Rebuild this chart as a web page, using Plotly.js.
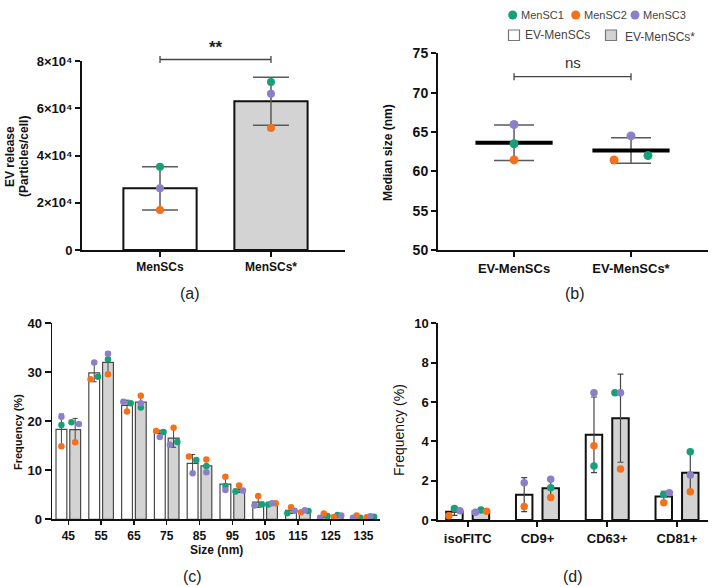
<!DOCTYPE html>
<html><head><meta charset="utf-8">
<script src="https://cdn.plot.ly/plotly-3.0.1.min.js"></script>
<style>html,body{margin:0;padding:0;background:#fff}</style>
</head><body><div id="chart" style="width:713px;height:587px"></div>
<script>
// ================= DATA =================
const donors = ['MenSC1', 'MenSC2', 'MenSC3'];
const groups = ['EV-MenSCs', 'EV-MenSCs*'];

// (a) EV release (particles/cell)
const releaseCats = ['MenSCs', 'MenSCs*'];
const releaseMenSC1 = [35260, 71100];
const releaseMenSC2 = [16930, 51640];
const releaseMenSC3 = [26100, 66160];
const releaseTickVals = [0, 20000, 40000, 60000, 80000];
const releaseTickText = ['0', '2×10⁴', '4×10⁴', '6×10⁴', '8×10⁴'];

// (b) Median size (nm)
const sizeCats = ['EV-MenSCs', 'EV-MenSCs*'];
const medianMenSC1 = [63.5, 62.0];
const medianMenSC2 = [61.45, 61.45];
const medianMenSC3 = [65.95, 64.5];

// (c) Size distribution, frequency (%)
const sizeBins = ['45', '55', '65', '75', '85', '95', '105', '115', '125', '135'];
const distEV_MenSC1 = [19.25, 29.1, 23.7, 17.8, 12.1, 6.8, 3.0, 1.22, 0.68, 0.34];
const distEV_MenSC2 = [14.9, 28.6, 22.0, 18.0, 12.8, 8.7, 4.76, 2.45, 1.16, 0.75];
const distEV_MenSC3 = [20.95, 32.0, 24.0, 16.8, 9.4, 6.0, 2.8, 1.77, 0.34, 0.34];
const distEVs_MenSC1 = [19.8, 32.65, 22.8, 15.8, 10.9, 5.65, 3.0, 1.7, 0.88, 0.5];
const distEVs_MenSC2 = [15.7, 29.6, 25.2, 18.7, 12.2, 6.9, 3.27, 1.43, 0.48, 0.4];
const distEVs_MenSC3 = [19.46, 33.8, 23.7, 15.2, 9.6, 5.9, 3.3, 1.84, 0.75, 0.6];

// (d) Tetraspanin markers, frequency (%)
const markerCats = ['isoFITC', 'CD9+', 'CD63+', 'CD81+'];
const markEV_MenSC1 = [0.58, null, 2.75, 1.3];
const markEV_MenSC2 = [0.22, 0.68, 3.78, 0.88];
const markEV_MenSC3 = [0.47, 1.9, 6.47, 1.39];
const markEVs_MenSC1 = [0.51, 1.64, 6.47, 3.47];
const markEVs_MenSC2 = [0.44, 1.14, 2.59, 1.44];
const markEVs_MenSC3 = [0.39, 2.07, 6.47, 2.29];

// ================= STYLE =================
const COL = {MenSC1: '#15a078', MenSC2: '#f5701a', MenSC3: '#8a7fc8'};
const GRAY_BAR = '#d3d3d3';
// scatter spread codes (-1 left, 0 centre, +1 right), purely presentational
const SPREAD_B = {MenSC1: [0, 1], MenSC2: [0, -1], MenSC3: [0, 0]};
const SPREAD_C_W = {MenSC1: [0,1,1,1,1,0,1,-1,1,1], MenSC2: [0,-1,0,-1,-1,0,0,0,0,0], MenSC3: [0,0,-1,0,0,0,-1,1,-1,-1]};
const SPREAD_C_G = {MenSC1: [-1,0,0,1,0,-1,-1,1,0,1], MenSC2: [0,0,0,0,0,0,1,-1,-1,-1], MenSC3: [1,0,0,-1,0,1,0,0,1,0]};
const SPREAD_D_W = {MenSC1: [0,0,0,0], MenSC2: [-1,0,0,0], MenSC3: [1,0,0,1]};
const SPREAD_D_G = {MenSC1: [0,0,-1,0], MenSC2: [1,0,0,0], MenSC3: [-1,0,0,0]};

const W = 713, H = 587;
const PX = p => p / W, PY = p => 1 - p / H;
const FONT = 'Liberation Sans, Arial, sans-serif';

function stats(arrs) {
  const n = arrs[0].length, mean = [], sd = [];
  for (let i = 0; i < n; i++) {
    const v = arrs.map(a => a[i]).filter(x => x !== null && x !== undefined);
    const m = v.reduce((s, x) => s + x, 0) / v.length;
    const s2 = v.reduce((s, x) => s + (x - m) * (x - m), 0) / (v.length - 1);
    mean.push(m); sd.push(Math.sqrt(s2));
  }
  return {mean, sd};
}
const idx = arr => arr.map((_, i) => i);

const traces = [];

// ---------- (a) ----------
const relStats = stats([releaseMenSC1, releaseMenSC2, releaseMenSC3]);
traces.push({
  type: 'bar', x: idx(releaseCats), y: relStats.mean, width: 0.66,
  xaxis: 'x', yaxis: 'y', showlegend: false, hoverinfo: 'skip',
  marker: {color: ['#ffffff', GRAY_BAR], line: {color: '#111', width: 2}},
  error_y: {type: 'data', array: relStats.sd, visible: true, color: '#5a5a5a', thickness: 1.5, width: 18}
});
[[releaseMenSC1, 'MenSC1'], [releaseMenSC2, 'MenSC2'], [releaseMenSC3, 'MenSC3']].forEach(([v, d]) => {
  traces.push({type: 'scatter', mode: 'markers', x: idx(releaseCats), y: v, xaxis: 'x', yaxis: 'y',
    showlegend: false, cliponaxis: false, hoverinfo: 'skip',
    marker: {color: COL[d], size: 8, line: {width: 0}}});
});

// ---------- (b) ----------
const medStats = stats([medianMenSC1, medianMenSC2, medianMenSC3]);
traces.push({
  type: 'scatter', mode: 'markers', x: idx(sizeCats), y: medStats.mean, xaxis: 'x2', yaxis: 'y2',
  showlegend: false, cliponaxis: false, hoverinfo: 'skip',
  marker: {color: 'rgba(0,0,0,0)', size: 1},
  error_y: {type: 'data', array: medStats.sd, visible: true, color: '#5a5a5a', thickness: 1.5, width: 20},
  error_x: {type: 'constant', value: 0.33, visible: true, color: '#000', thickness: 4, width: 0}
});
[[medianMenSC1, 'MenSC1'], [medianMenSC2, 'MenSC2'], [medianMenSC3, 'MenSC3']].forEach(([v, d]) => {
  traces.push({type: 'scatter', mode: 'markers', x: idx(sizeCats).map(i => i + 0.145 * SPREAD_B[d][i]), y: v,
    xaxis: 'x2', yaxis: 'y2', showlegend: false, cliponaxis: false, hoverinfo: 'skip',
    marker: {color: COL[d], size: 9, line: {width: 0}}});
});

// ---------- (c) ----------
const cW = stats([distEV_MenSC1, distEV_MenSC2, distEV_MenSC3]);
const cG = stats([distEVs_MenSC1, distEVs_MenSC2, distEVs_MenSC3]);
const C_OFF = 0.21, C_W = 0.33, C_STEP = 0.113;
traces.push({type: 'bar', x: idx(sizeBins), y: cW.mean, width: C_W, offset: -C_OFF - C_W / 2,
  xaxis: 'x3', yaxis: 'y3', showlegend: false, hoverinfo: 'skip',
  marker: {color: '#ffffff', line: {color: '#4a4a4a', width: 1.2}},
  error_y: {type: 'data', array: cW.sd, visible: true, color: '#444', thickness: 1, width: 2.5}});
traces.push({type: 'bar', x: idx(sizeBins), y: cG.mean, width: C_W, offset: C_OFF - C_W / 2,
  xaxis: 'x3', yaxis: 'y3', showlegend: false, hoverinfo: 'skip',
  marker: {color: GRAY_BAR, line: {color: '#4a4a4a', width: 1.2}},
  error_y: {type: 'data', array: cG.sd, visible: true, color: '#444', thickness: 1, width: 2.5}});
[[distEV_MenSC1, 'MenSC1', -1, SPREAD_C_W], [distEV_MenSC2, 'MenSC2', -1, SPREAD_C_W], [distEV_MenSC3, 'MenSC3', -1, SPREAD_C_W],
 [distEVs_MenSC1, 'MenSC1', 1, SPREAD_C_G], [distEVs_MenSC2, 'MenSC2', 1, SPREAD_C_G], [distEVs_MenSC3, 'MenSC3', 1, SPREAD_C_G]]
.forEach(([v, d, side, sp]) => {
  traces.push({type: 'scatter', mode: 'markers', x: idx(sizeBins).map(i => i + side * C_OFF + C_STEP * sp[d][i]), y: v,
    xaxis: 'x3', yaxis: 'y3', showlegend: false, cliponaxis: false, hoverinfo: 'skip',
    marker: {color: COL[d], size: 6.5, line: {width: 0}}});
});

// ---------- (d) ----------
const dW = stats([markEV_MenSC1, markEV_MenSC2, markEV_MenSC3]);
const dG = stats([markEVs_MenSC1, markEVs_MenSC2, markEVs_MenSC3]);
const D_OFF = 0.19, D_W = 0.236, D_STEP = 0.08;
traces.push({type: 'bar', x: idx(markerCats), y: dW.mean, width: D_W, offset: -D_OFF - D_W / 2,
  xaxis: 'x4', yaxis: 'y4', showlegend: false, hoverinfo: 'skip',
  marker: {color: '#ffffff', line: {color: '#111', width: 2}},
  error_y: {type: 'data', array: dW.sd, visible: true, color: '#444', thickness: 1.2, width: 3}});
traces.push({type: 'bar', x: idx(markerCats), y: dG.mean, width: D_W, offset: D_OFF - D_W / 2,
  xaxis: 'x4', yaxis: 'y4', showlegend: false, hoverinfo: 'skip',
  marker: {color: GRAY_BAR, line: {color: '#111', width: 2}},
  error_y: {type: 'data', array: dG.sd, visible: true, color: '#444', thickness: 1.2, width: 3}});
[[markEV_MenSC1, 'MenSC1', -1, SPREAD_D_W], [markEV_MenSC2, 'MenSC2', -1, SPREAD_D_W], [markEV_MenSC3, 'MenSC3', -1, SPREAD_D_W],
 [markEVs_MenSC1, 'MenSC1', 1, SPREAD_D_G], [markEVs_MenSC2, 'MenSC2', 1, SPREAD_D_G], [markEVs_MenSC3, 'MenSC3', 1, SPREAD_D_G]]
.forEach(([v, d, side, sp]) => {
  traces.push({type: 'scatter', mode: 'markers', x: idx(markerCats).map(i => i + side * D_OFF + D_STEP * sp[d][i]), y: v,
    xaxis: 'x4', yaxis: 'y4', showlegend: false, cliponaxis: false, hoverinfo: 'skip',
    marker: {color: COL[d], size: 7.5, line: {width: 0}}});
});

// ================= LAYOUT =================
function axisBase(extra) {
  return Object.assign({
    showgrid: false, zeroline: false, showline: true, linecolor: '#111', linewidth: 2,
    ticks: 'outside', ticklen: 5, tickwidth: 2, tickcolor: '#111', fixedrange: true,
    tickfont: {family: FONT, size: 12, color: '#111', weight: 'bold'}
  }, extra);
}
const layout = {
  width: W, height: H, margin: {l: 0, r: 0, t: 0, b: 0},
  paper_bgcolor: '#fff', plot_bgcolor: 'rgba(0,0,0,0)',
  barmode: 'overlay', showlegend: false, font: {family: FONT},
  xaxis: axisBase({domain: [PX(82), PX(345)], anchor: 'y', range: [-0.703, 1.667],
    tickvals: idx(releaseCats), ticktext: releaseCats}),
  yaxis: axisBase({domain: [PY(250), PY(61)], anchor: 'x', range: [0, 80000],
    tickvals: releaseTickVals, ticktext: releaseTickText,
    tickfont: {family: FONT, size: 13, color: '#111', weight: 'bold'}}),
  xaxis2: axisBase({domain: [PX(438), PX(708)], anchor: 'y2', range: [-0.65, 1.658],
    tickvals: idx(sizeCats), ticktext: sizeCats, tickfont: {family: FONT, size: 13, color: '#111', weight: 'bold'}}),
  yaxis2: axisBase({domain: [PY(250), PY(53.3)], anchor: 'x2', range: [50, 75], dtick: 5, tick0: 50,
    tickfont: {family: FONT, size: 14, color: '#111', weight: 'bold'}}),
  xaxis3: axisBase({domain: [PX(52.3), PX(380)], anchor: 'y3', range: [-0.488, 9.503],
    tickvals: idx(sizeBins), ticktext: sizeBins, linewidth: 1.8, tickwidth: 1.5, ticklen: 4,
    tickfont: {family: FONT, size: 12, color: '#111', weight: 'bold'}}),
  yaxis3: axisBase({domain: [PY(519.3), PY(323.3)], anchor: 'x3', range: [0, 40], dtick: 10, tick0: 0,
    linewidth: 1.8, tickwidth: 1.8, ticklen: 6, tickfont: {family: FONT, size: 13, color: '#111', weight: 'bold'}}),
  xaxis4: axisBase({domain: [PX(438.3), PX(708)], anchor: 'y4', range: [-0.421, 3.444],
    tickvals: idx(markerCats), ticktext: markerCats, tickfont: {family: FONT, size: 13, color: '#111', weight: 'bold'}}),
  yaxis4: axisBase({domain: [PY(520), PY(323.3)], anchor: 'x4', range: [0, 10], dtick: 2, tick0: 0,
    tickfont: {family: FONT, size: 13, color: '#111', weight: 'bold'}}),
  shapes: [], annotations: []
};

function ann(text, px, py, o) {
  layout.annotations.push(Object.assign({text, x: PX(px), y: PY(py), xref: 'paper', yref: 'paper',
    showarrow: false, xanchor: 'center', yanchor: 'middle',
    font: {family: FONT, size: 12, color: '#111'}}, o || {}));
}
const BOLD12 = {family: FONT, size: 12, color: '#111', weight: 'bold'};
// axis titles
ann('EV release', 10, 157, {textangle: -90, font: BOLD12});
ann('(Particles/cell)', 24, 157, {textangle: -90, font: BOLD12});
ann('Median size (nm)', 388, 153, {textangle: -90, font: BOLD12});
ann('Frequency (%)', 18, 432, {textangle: -90, font: {family: FONT, size: 11, color: '#111', weight: 'bold'}});
ann('Frequency (%)', 399, 430, {textangle: -90, font: {family: FONT, size: 14, color: '#111'}});
ann('Size (nm)', 216, 550, {font: BOLD12});
// panel labels
ann('(a)', 190, 293, {font: {family: FONT, size: 16, color: '#222'}});
ann('(b)', 575, 293, {font: {family: FONT, size: 16, color: '#222'}});
ann('(c)', 192, 576, {font: {family: FONT, size: 16, color: '#222'}});
ann('(d)', 573, 576, {font: {family: FONT, size: 16, color: '#222'}});

// significance brackets
function bracket(xr, lineY, label, labelY, labelFont) {
  const c = {color: '#444', width: 1.3};
  layout.shapes.push({type: 'line', xref: xr, yref: 'paper', x0: 0, x1: 1, y0: PY(lineY), y1: PY(lineY), line: c});
  [0, 1].forEach(v => layout.shapes.push({type: 'line', xref: xr, yref: 'paper', x0: v, x1: v,
    y0: PY(lineY - 3.5), y1: PY(lineY + 3.5), line: c}));
  layout.annotations.push({text: label, xref: xr, yref: 'paper', x: 0.5, y: PY(labelY), showarrow: false,
    xanchor: 'center', yanchor: 'middle', font: labelFont});
}
bracket('x', 59.5, '**', 48, {family: FONT, size: 17, color: '#222', weight: 'bold'});
bracket('x2', 76.7, 'ns', 63, {family: FONT, size: 15, color: '#333'});

// manual legend (top right)
const LEG_FONT = {family: FONT, size: 11, color: '#444'};
[['MenSC1', 512.7, 519], ['MenSC2', 575.7, 582], ['MenSC3', 635, 641]].forEach(([d, cx, tx]) => {
  layout.shapes.push({type: 'circle', xref: 'paper', yref: 'paper', x0: PX(cx - 4.5), x1: PX(cx + 4.5),
    y0: PY(15 + 4.5), y1: PY(15 - 4.5), fillcolor: COL[d], line: {width: 0}});
  ann(d, tx, 15, {xanchor: 'left', font: LEG_FONT});
});
[[groups[0], 508.5, '#ffffff', 523, 35], [groups[1], 605.5, GRAY_BAR, 622.5, 37]].forEach(([g, x0, fc, tx, ty]) => {
  layout.shapes.push({type: 'rect', xref: 'paper', yref: 'paper', x0: PX(x0), x1: PX(x0 + 11),
    y0: PY(40.5), y1: PY(30), fillcolor: fc, line: {color: '#777', width: 1.2}});
  ann(g, tx, ty, {xanchor: 'left', font: {family: FONT, size: 12, color: '#444'}});
});

Plotly.newPlot('chart', traces, layout, {displayModeBar: false, staticPlot: true});
</script>
</body></html>
